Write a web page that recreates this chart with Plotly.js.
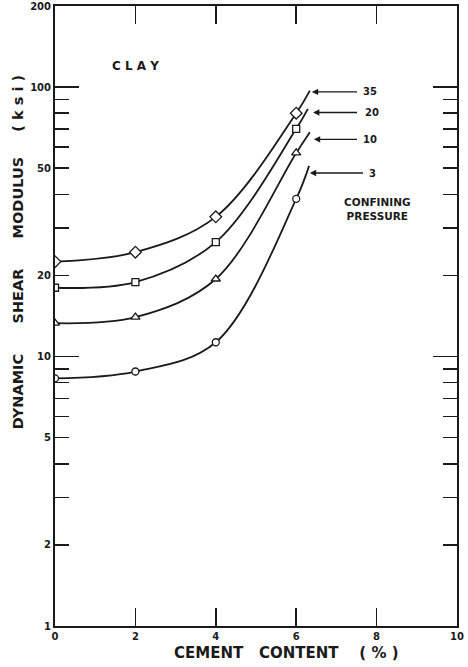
<!DOCTYPE html>
<html><head><meta charset="utf-8">
<script src="https://cdn.plot.ly/plotly-3.0.1.min.js"></script>
<style>html,body{margin:0;padding:0;background:#fff}#chart{width:468px;height:667px}</style>
</head><body><div id="chart"></div>
<script>
// ---- data ----
const cementContent = [0, 2, 4, 6];
const pressureLabels = ['35', '20', '10', '3'];
const modulusP35 = [22.5, 24.4, 33.0, 80.0];
const modulusP20 = [18.0, 18.9, 26.6, 70.0];
const modulusP10 = [13.3, 14.0, 19.4, 57.0];
const modulusP3  = [8.3, 8.8, 11.3, 38.5];
const curveEndX = [6.34, 6.29, 6.34, 6.32];
const curveEndY = [97, 83, 68, 51];
const yTickVals = [1, 2, 5, 10, 20, 50, 100, 200];
const yTickText = ['1', '2', '5', '10', '20', '50', '100', '200'];
const yMinorVals = [3, 4, 6, 7, 8, 9, 30, 40, 60, 70, 80, 90];
const yDecadeVals = [10, 100];
const xTickVals = [0, 2, 4, 6, 8, 10];
const xTickText = ['0', '2', '4', '6', '8', '10'];

// ---- styling ----
const INK = '#1a1a1a';
const FONT = 'DejaVu Sans';
const series = [modulusP35, modulusP20, modulusP10, modulusP3];
const symbols = ['diamond', 'square', 'triangle-up', 'circle'];
const sizes = [9, 7, 8, 7];
// arrow geometry (layout): head x, tail x, y value, label x
const arrowHeadX = [6.39, 6.42, 6.44, 6.34];
const arrowTailX = [7.55, 7.55, 7.55, 7.70];
const arrowY = [96, 80.5, 64, 48];
const labelX = [7.62, 7.66, 7.62, 7.77];

const traces = [];
series.forEach((vals, i) => {
  traces.push({
    x: cementContent.concat([curveEndX[i]]),
    y: vals.concat([curveEndY[i]]),
    type: 'scatter', mode: 'lines',
    line: {color: INK, width: 1.8, shape: 'spline', smoothing: 1},
    xaxis: 'x', yaxis: 'y', hoverinfo: 'skip', showlegend: false
  });
});
series.forEach((vals, i) => {
  traces.push({
    x: cementContent, y: vals,
    type: 'scatter', mode: 'markers',
    marker: {symbol: symbols[i], size: sizes[i], color: '#fff', line: {color: INK, width: 1.3}},
    xaxis: 'x', yaxis: 'y2', hoverinfo: 'skip', showlegend: false
  });
});

const L = Math.log10;
const SP = '\u00a0';
const annotations = [];
pressureLabels.forEach((lab, i) => {
  annotations.push({
    x: arrowHeadX[i], y: L(arrowY[i]), xref: 'x', yref: 'y',
    ax: arrowTailX[i], ay: L(arrowY[i]), axref: 'x', ayref: 'y',
    text: '', showarrow: true, arrowhead: 2, arrowsize: 0.9, arrowwidth: 1.4, arrowcolor: INK
  });
  annotations.push({
    x: labelX[i], y: L(arrowY[i]), xref: 'x', yref: 'y', xanchor: 'left', yanchor: 'middle',
    text: lab, showarrow: false, font: {family: FONT, size: 10, color: INK, weight: 'bold'}
  });
});
annotations.push({
  x: 1.37, y: 2.079, xref: 'x', yref: 'y', xanchor: 'left', yanchor: 'middle',
  text: 'C L A Y', showarrow: false, font: {family: FONT, size: 12, color: INK, weight: 'bold'}
});
annotations.push({
  x: 8.03, y: 1.548, xref: 'x', yref: 'y', xanchor: 'center', yanchor: 'middle',
  text: 'CONFINING<br>PRESSURE', showarrow: false,
  font: {family: FONT, size: 10.5, color: INK, weight: 'bold'}
});
annotations.push({
  x: 0.575, y: -0.044, xref: 'paper', yref: 'paper', xanchor: 'center', yanchor: 'middle',
  text: 'CEMENT' + SP.repeat(3) + 'CONTENT' + SP.repeat(4) + '( % )', showarrow: false,
  font: {family: FONT, size: 15, color: INK, weight: 'bold'}
});
annotations.push({
  x: -0.092, y: 0.603, xref: 'paper', yref: 'paper', xanchor: 'center', yanchor: 'middle',
  textangle: -90,
  text: 'DYNAMIC' + SP.repeat(6) + 'SHEAR' + SP.repeat(6) + 'MODULUS' + SP.repeat(5) + '( k s i )', showarrow: false,
  font: {family: FONT, size: 14.5, color: INK, weight: 'bold'}
});

const yRange = [0, L(200)];
const layout = {
  width: 468, height: 667,
  margin: {l: 55, r: 11, t: 6, b: 41, pad: 0},
  paper_bgcolor: '#fff', plot_bgcolor: '#fff',
  showlegend: false,
  xaxis: {
    range: [0, 10], showgrid: false, zeroline: false,
    showline: true, linecolor: INK, linewidth: 2, mirror: 'ticks',
    tickmode: 'array', tickvals: xTickVals, ticktext: xTickText,
    ticks: 'inside', ticklen: 18, tickwidth: 1.5, tickcolor: INK,
    tickfont: {family: FONT, size: 10, color: INK, weight: 'bold'}
  },
  yaxis: {
    type: 'log', range: yRange, showgrid: false, zeroline: false,
    showline: true, linecolor: INK, linewidth: 2, mirror: 'ticks',
    tickmode: 'array', tickvals: yTickVals, ticktext: yTickText,
    ticks: 'inside', ticklen: 14, tickwidth: 1.5, tickcolor: INK,
    tickfont: {family: FONT, size: 10, color: INK, weight: 'bold'},
    minor: {tickmode: 'array', tickvals: yMinorVals, ticks: 'inside', ticklen: 14, tickwidth: 1.5, tickcolor: INK, showgrid: false}
  },
  yaxis2: {
    type: 'log', range: yRange, overlaying: 'y', side: 'left', anchor: 'x',
    showgrid: false, zeroline: false, showline: true, linecolor: INK, linewidth: 2, mirror: 'ticks',
    tickmode: 'array', tickvals: yDecadeVals, showticklabels: false,
    ticks: 'inside', ticklen: 24, tickwidth: 1.5, tickcolor: INK
  },
  annotations: annotations
};
Plotly.newPlot('chart', traces, layout, {staticPlot: true, displayModeBar: false});
</script>
</body></html>
